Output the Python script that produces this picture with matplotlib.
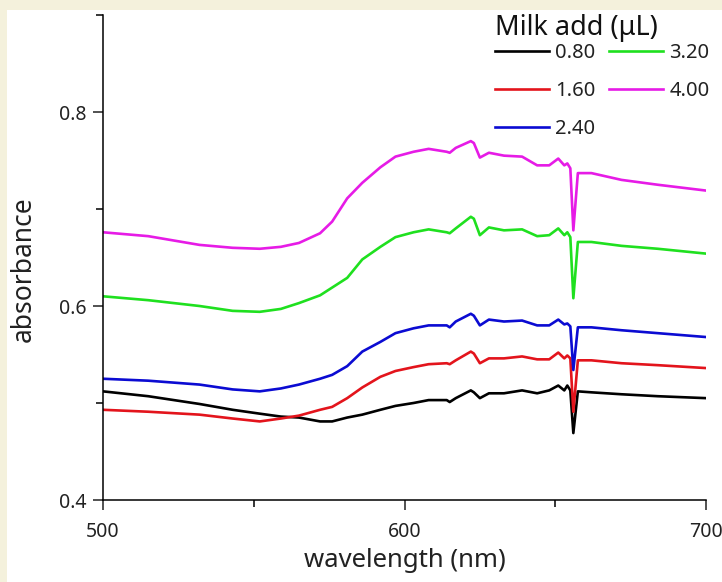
import matplotlib.pyplot as plt
from matplotlib.patches import Rectangle
from matplotlib.ticker import MultipleLocator

# absorbance spectra vs. wavelength for each volume of milk added
wavelength = [500, 515, 532, 543, 552, 559, 565, 572, 576, 581, 586, 592, 597, 603, 608,
              614, 615, 617, 622, 623, 625, 628, 633, 639, 644, 648, 651, 653, 654, 655,
              656, 657.5, 662, 672, 684, 700]

abs_080 = [0.512, 0.507, 0.499, 0.493, 0.489, 0.486, 0.485, 0.481, 0.481, 0.485, 0.488, 0.493,
           0.497, 0.500, 0.503, 0.503, 0.501, 0.505, 0.513, 0.511, 0.505, 0.510, 0.510, 0.513,
           0.510, 0.513, 0.518, 0.513, 0.518, 0.513, 0.469, 0.512, 0.511, 0.509, 0.507, 0.505]
abs_160 = [0.493, 0.491, 0.488, 0.484, 0.481, 0.484, 0.487, 0.493, 0.496, 0.505, 0.516, 0.527,
           0.533, 0.537, 0.540, 0.541, 0.540, 0.544, 0.553, 0.551, 0.541, 0.546, 0.546, 0.548,
           0.545, 0.545, 0.552, 0.546, 0.549, 0.546, 0.491, 0.544, 0.544, 0.541, 0.539, 0.536]
abs_240 = [0.525, 0.523, 0.519, 0.514, 0.512, 0.515, 0.519, 0.525, 0.529, 0.538, 0.553, 0.563,
           0.572, 0.577, 0.580, 0.580, 0.578, 0.584, 0.592, 0.590, 0.580, 0.586, 0.584, 0.585,
           0.580, 0.580, 0.586, 0.581, 0.582, 0.579, 0.534, 0.578, 0.578, 0.575, 0.572, 0.568]
abs_320 = [0.610, 0.606, 0.600, 0.595, 0.594, 0.597, 0.603, 0.611, 0.619, 0.629, 0.648, 0.661,
           0.671, 0.676, 0.679, 0.676, 0.675, 0.680, 0.692, 0.690, 0.673, 0.681, 0.678, 0.679,
           0.672, 0.673, 0.680, 0.673, 0.676, 0.671, 0.608, 0.666, 0.666, 0.662, 0.659, 0.654]
abs_400 = [0.676, 0.672, 0.663, 0.660, 0.659, 0.661, 0.665, 0.675, 0.687, 0.711, 0.727, 0.743,
           0.754, 0.759, 0.762, 0.759, 0.758, 0.763, 0.770, 0.768, 0.753, 0.758, 0.755, 0.754,
           0.745, 0.745, 0.752, 0.745, 0.747, 0.742, 0.678, 0.737, 0.737, 0.730, 0.725, 0.719]

labels = ['0.80', '1.60', '2.40', '3.20', '4.00']
series = [abs_080, abs_160, abs_240, abs_320, abs_400]
colors = ['#000000', '#e3141c', '#0b0bd2', '#1fe01f', '#e61be6']

plt.rcParams['font.family'] = ['Noto Sans', 'DejaVu Sans']

fig = plt.figure(figsize=(7.22, 5.82), dpi=100, facecolor='#f4f1dc')
# white page on top of the slide background
fig.patches.append(Rectangle((7 / 722, 0), 1, 1 - 10 / 582, transform=fig.transFigure,
                             facecolor='white', edgecolor='none', zorder=-10))

ax = fig.add_axes([103 / 722, 1 - 500 / 582, 603 / 722, 485 / 582])
ax.set_facecolor('none')
ax.set_zorder(1)

for y, c, lab in zip(series, colors, labels):
    ax.plot(wavelength, y, color=c, lw=1.9, label=lab)

ax.set_xlim(500, 700)
ax.set_ylim(0.4, 0.9)
ax.set_xticks([500, 600, 700])
ax.xaxis.set_minor_locator(MultipleLocator(50))
ax.set_yticks([0.4, 0.6, 0.8])
ax.yaxis.set_minor_locator(MultipleLocator(0.1))

for s in ['top', 'right']:
    ax.spines[s].set_visible(False)
for s in ['left', 'bottom']:
    ax.spines[s].set_linewidth(1.1)

ax.tick_params(which='major', length=7, width=1.1, labelsize=14, colors='#222222')
ax.tick_params(which='minor', length=5, width=1.1)
ax.tick_params(axis='x', which='major', pad=9)
ax.tick_params(axis='y', which='major', pad=5)
ax.set_xlabel('wavelength (nm)', fontsize=18.5, color='#222222', labelpad=4)
ax.set_ylabel('absorbance', fontsize=19, color='#222222')
ax.yaxis.set_label_coords(-0.108, 0.475)

# legend title is placed on its own so it can sit tight above the entries
fig.text(495 / 722, 1 - 35 / 582, 'Milk add (\u03bcL)', fontsize=19.5, color='#111111',
         ha='left', va='baseline')
leg = ax.legend(ncol=2, frameon=False, fontsize=14.5, loc='upper left',
                bbox_to_anchor=(495 / 722, 1 - 43 / 582), bbox_transform=fig.transFigure,
                borderpad=0, borderaxespad=0, handlelength=2.7, handletextpad=0.3,
                columnspacing=0.65, labelspacing=0.9)
for t in leg.get_texts():
    t.set_color('#222222')

fig.savefig('out.png', dpi=100, facecolor=fig.get_facecolor())
